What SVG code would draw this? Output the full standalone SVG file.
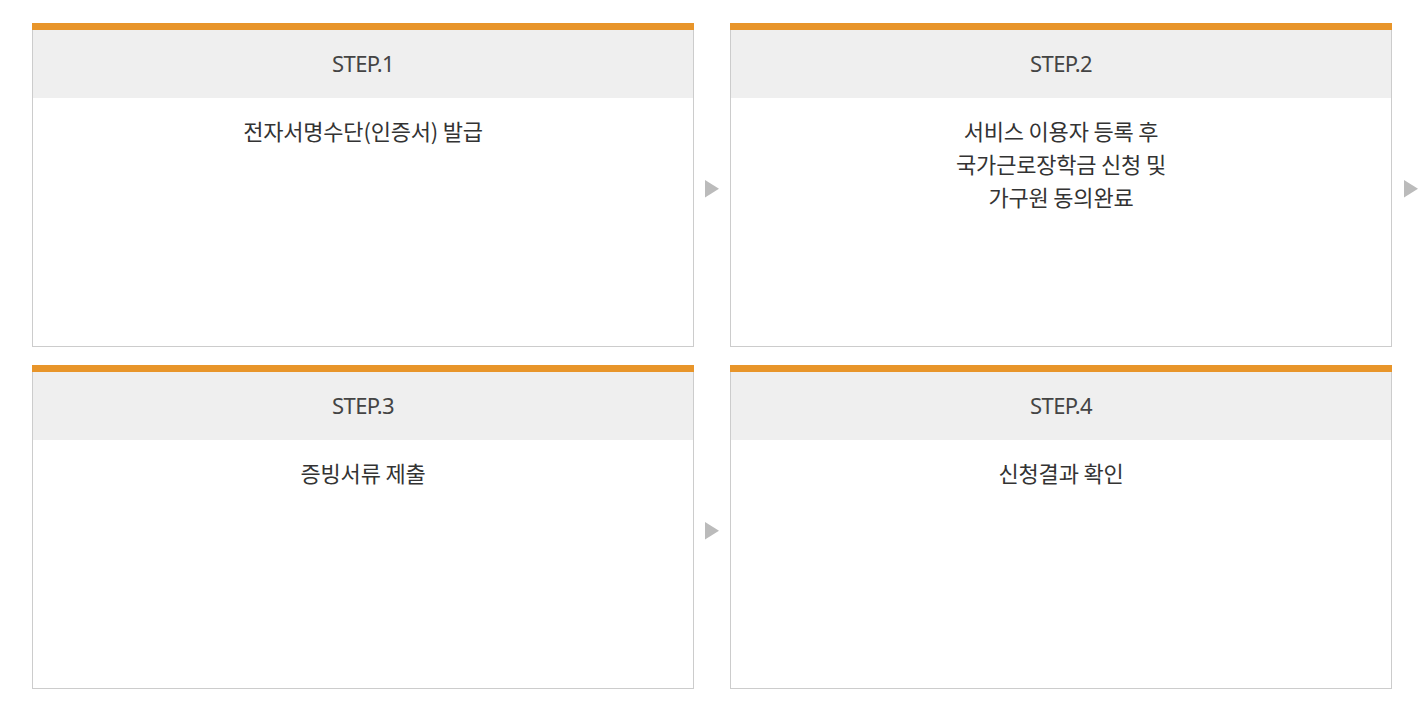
<svg xmlns="http://www.w3.org/2000/svg" width="1426" height="704" viewBox="0 0 1426 704">
<style>
.card{fill:#fff;stroke:#cccccc;stroke-width:1}
.head{fill:#efefef}
.bar{fill:#e8952a}
.step{font-family:"Noto Sans","Noto Sans CJK KR",sans-serif;font-size:22px;fill:#444;text-anchor:middle;letter-spacing:-0.6px}
.txt{font-family:"Noto Sans CJK KR",sans-serif;font-size:22px;fill:#333;text-anchor:middle;letter-spacing:-0.2px}
.arr{fill:#bbbbbb}
</style>
<rect width="1426" height="704" fill="#fff"/>
<g id="step1">
<rect class="card" x="32.5" y="23.5" width="661" height="323"/>
<rect class="head" x="33" y="30" width="660" height="68"/>
<rect class="bar" x="32" y="23" width="662" height="7"/>
<text class="step" x="363" y="72">STEP.1</text>
<text class="txt" x="363" y="140">전자서명수단(인증서) 발급</text>
</g>
<g id="step2">
<rect class="card" x="730.5" y="23.5" width="661" height="323"/>
<rect class="head" x="731" y="30" width="660" height="68"/>
<rect class="bar" x="730" y="23" width="662" height="7"/>
<text class="step" x="1061" y="72">STEP.2</text>
<text class="txt" x="1061" y="140">서비스 이용자 등록 후</text>
<text class="txt" x="1061" y="173">국가근로장학금 신청 및</text>
<text class="txt" x="1061" y="206">가구원 동의완료</text>
</g>
<g id="step3">
<rect class="card" x="32.5" y="365.5" width="661" height="323"/>
<rect class="head" x="33" y="372" width="660" height="68"/>
<rect class="bar" x="32" y="365" width="662" height="7"/>
<text class="step" x="363" y="414">STEP.3</text>
<text class="txt" x="363" y="482">증빙서류 제출</text>
</g>
<g id="step4">
<rect class="card" x="730.5" y="365.5" width="661" height="323"/>
<rect class="head" x="731" y="372" width="660" height="68"/>
<rect class="bar" x="730" y="365" width="662" height="7"/>
<text class="step" x="1061" y="414">STEP.4</text>
<text class="txt" x="1061" y="482">신청결과 확인</text>
</g>
<g id="connectors">
<polygon class="arr" points="705,180 705,197.5 719,188.7"/>
<polygon class="arr" points="1404,180 1404,197.5 1418,188.7"/>
<polygon class="arr" points="705,522 705,539.5 719,530.7"/>
</g>
</svg>
